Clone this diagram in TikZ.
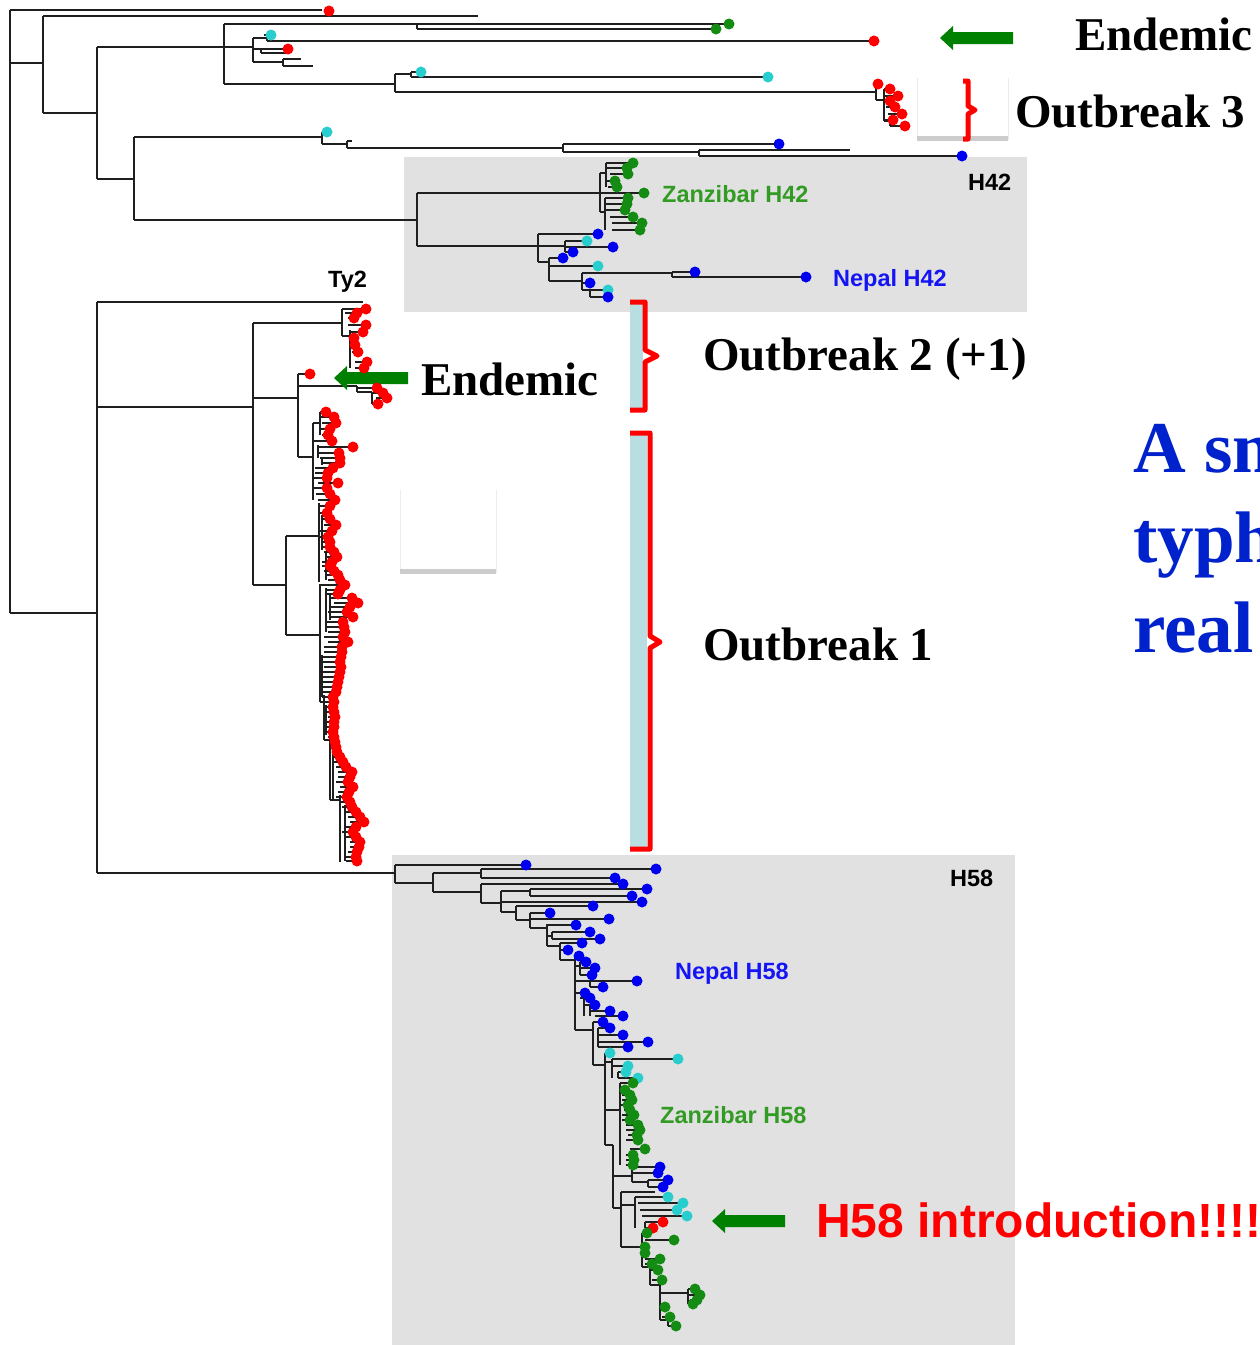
\documentclass[tikz,border=0pt]{standalone}
\usepackage{fontspec}
\setmainfont{Liberation Serif}
\newfontfamily\arialf{Liberation Sans}
\pgfdeclarelayer{bg}
\pgfdeclarelayer{fg}
\pgfsetlayers{bg,main,fg}
\definecolor{rd}{RGB}{255,0,0}
\definecolor{bl}{RGB}{0,0,240}
\definecolor{cy}{RGB}{40,205,205}
\definecolor{gr}{RGB}{20,140,20}
\definecolor{arrgreen}{RGB}{0,128,0}
\definecolor{boxgray}{RGB}{225,225,225}
\definecolor{paleblue}{RGB}{185,222,225}
\definecolor{zgreen}{RGB}{50,155,35}
\definecolor{nblue}{RGB}{20,20,245}
\definecolor{bigblue}{RGB}{0,34,204}
\tikzset{
  tr/.style={line width=1.6pt, black!88},
  brk/.style={draw=rd, line width=5pt, line join=round, line cap=butt},
  serlab/.style={anchor=base west, inner sep=0pt, font=\fontsize{47}{56}\selectfont\bfseries},
  treelab/.style={anchor=base west, inner sep=0pt, font=\arialf\fontsize{23.5}{28}\selectfont\bfseries},
}
\newcommand\lf[4]{\draw[tr] (#1,#3) -- (#2,#3);\begin{pgfonlayer}{fg}\fill[#4] (#2,#3) circle[radius=5.5pt];\end{pgfonlayer}}
\newcommand\dt[3]{\begin{pgfonlayer}{fg}\fill[#3] (#1,#2) circle[radius=5.5pt];\end{pgfonlayer}}
\newcommand\vs[3]{\draw[tr] (#1,#2) -- (#1,#3);}
\newcommand\hb[3]{\draw[tr] (#1,#3) -- (#2,#3);}
\newcommand\garrow[3]{\fill[arrgreen] (#1,#2) -- (#1+13,#2-12) -- (#1+13,#2-6) -- (#3,#2-6) -- (#3,#2+6) -- (#1+13,#2+6) -- (#1+13,#2+12) -- cycle;}
\begin{document}
\begin{tikzpicture}[x=1pt,y=-1pt]
\useasboundingbox (0,0) rectangle (1260,1345);
\clip (0,0) rectangle (1260,1345);
% background
\begin{pgfonlayer}{bg}
\fill[white] (0,0) rectangle (1260,1345);
\fill[boxgray] (404,157) rectangle (1027,312);
\fill[boxgray] (392,855) rectangle (1015,1345);
\end{pgfonlayer}
% artifact boxes
\fill[white] (917,78) rectangle (1008,140);
\draw[black!8, line width=1pt] (917,78) -- (917,140) (1008,78) -- (1008,140);
\fill[black!20] (917,136) rectangle (1008,141);
\fill[white] (400,490) rectangle (496,573);
\draw[black!7, line width=1pt] (400,490) -- (400,573) (496,490) -- (496,573);
\fill[black!20] (400,569) rectangle (496,574);

% ---------- upper tree ----------
\vs{10}{10}{613}
\hb{10}{322}{10} \dt{329}{11}{rd}
\hb{10}{43}{63}
\vs{43}{16}{113}
\hb{43}{478}{16}
\hb{43}{97}{113}
\vs{97}{47}{179}
\hb{97}{253}{47}
\vs{224}{24}{84}
\hb{224}{417}{24}
\vs{417}{24}{29}
\lf{417}{729}{24}{gr}
\lf{417}{716}{29}{gr}
\vs{253}{38}{62}
\hb{253}{267}{38}
\vs{267}{35}{41}
\lf{264}{271}{35}{cy}
\lf{267}{874}{41}{rd}
\hb{253}{261}{49}
\vs{261}{49}{53}
\lf{261}{288}{49}{rd}
\hb{261}{286}{53}
\hb{253}{283}{62}
\vs{283}{59}{66}
\hb{283}{301}{59}
\hb{283}{313}{66}
\hb{224}{395}{84}
\vs{395}{74}{92}
\hb{395}{411}{74}
\vs{411}{72}{77}
\lf{411}{421}{72}{cy}
\lf{411}{768}{77}{cy}
\hb{395}{876}{92}
% outbreak 3 cluster
\vs{876}{84}{100}
\lf{876}{878}{84}{rd}
\hb{876}{884}{100}
\vs{884}{89}{121}
\lf{884}{890}{89}{rd}
\lf{884}{898}{96}{rd}
\lf{886}{890}{101}{rd}
\lf{886}{895}{107}{rd}
\lf{888}{902}{114}{rd}
\lf{884}{893}{120}{rd}
\hb{884}{890}{121}
\vs{890}{121}{126}
\lf{890}{905}{126}{rd}
% second branch
\hb{97}{134}{179}
\vs{134}{137}{220}
\hb{134}{322}{137}
\vs{322}{132}{144}
\lf{322}{327}{132}{cy}
\hb{322}{347}{144}
\vs{347}{141}{148}
\hb{347}{352}{141}
\hb{347}{563}{148}
\vs{563}{144}{152}
\lf{563}{779}{144}{bl}
\hb{563}{699}{152}
\vs{699}{150}{156}
\hb{699}{850}{150}
\lf{699}{962}{156}{bl}
\hb{134}{417}{220}
\vs{417}{193}{246}
% Zanzibar H42
\hb{417}{600}{193}
\vs{600}{173}{212}
\hb{600}{606}{173}
\vs{606}{163}{187}
\lf{606}{633}{163}{gr}
\lf{606}{627}{168}{gr}
\lf{610}{628}{174}{gr}
\lf{606}{615}{181}{gr}
\lf{608}{617}{187}{gr}
\lf{600}{644}{193}{gr}
\hb{600}{605}{212}
\vs{605}{198}{230}
\lf{605}{628}{198}{gr}
\lf{605}{627}{204}{gr}
\lf{605}{625}{210}{gr}
\lf{610}{633}{217}{gr}
\lf{612}{642}{223}{gr}
\lf{612}{640}{230}{gr}
% Nepal H42
\hb{417}{538}{246}
\vs{538}{234}{262}
\lf{538}{598}{234}{bl}
\hb{538}{565}{246}
\vs{565}{241}{252}
\lf{565}{587}{241}{cy}
\lf{565}{613}{247}{bl}
\lf{565}{573}{252}{bl}
\hb{538}{549}{262}
\vs{549}{258}{281}
\lf{549}{563}{258}{bl}
\lf{549}{598}{266}{cy}
\hb{549}{582}{281}
\vs{582}{273}{290}
\hb{582}{672}{273}
\vs{672}{272}{277}
\lf{672}{695}{272}{bl}
\lf{672}{806}{277}{bl}
\lf{582}{590}{283}{bl}
\hb{582}{590}{290}
\vs{590}{290}{297}
\lf{590}{608}{290}{cy}
\lf{590}{608}{297}{bl}

% ---------- Ty2 ----------
\hb{10}{97}{613}
\vs{97}{302}{873}
\hb{97}{363}{302}
\hb{97}{253}{407}
\vs{253}{323}{585}
% outbreak 2
\hb{253}{342}{323}
\vs{342}{309}{336}
\lf{342}{366}{309}{rd}
\lf{345}{357}{313}{rd}
\lf{348}{354}{318}{rd}
\lf{348}{366}{325}{rd}
\hb{342}{350}{336}
\vs{350}{330}{368}
\lf{350}{363}{332}{rd}
\lf{350}{354}{338}{rd}
\lf{352}{355}{345}{rd}
\lf{352}{358}{352}{rd}
\lf{355}{367}{362}{rd}
\lf{355}{364}{368}{rd}
% endemic
\hb{253}{298}{398}
\vs{298}{374}{457}
\lf{298}{310}{374}{rd}
\hb{298}{357}{386}
\vs{357}{386}{392}
\lf{357}{377}{388}{rd}
\hb{357}{372}{392}
\vs{372}{392}{404}
\lf{372}{383}{393}{rd}
\lf{376}{387}{398}{rd}
\lf{372}{378}{404}{rd}
% outbreak 1
\hb{298}{313}{457}
\vs{313}{423}{500}
\hb{313}{320}{423}
\vs{320}{412}{435}
\hb{253}{286}{585}
\vs{286}{536}{635}
\hb{286}{319}{536}
\vs{319}{503}{582}
\hb{286}{320}{635}
\vs{320}{584}{702}
\hb{320}{324}{702}
\vs{324}{695}{740}
\hb{324}{330}{740}
\vs{330}{735}{800}
\hb{330}{340}{800}
\vs{340}{795}{862}
\vs{318}{445}{458} \vs{322}{458}{465} \vs{322}{515}{550} \vs{326}{552}{580}
\vs{326}{588}{632} \vs{330}{595}{620} \vs{322}{655}{697} \vs{326}{705}{735}
\vs{333}{745}{800} \vs{345}{805}{861}
\foreach \s/\x/\y in {320/326/412, 320/334/417, 322/336/423, 320/330/429, 322/328/435,
313/332/441, 318/353/447, 318/339/453, 320/340/458, 322/340/463, 315/333/468, 315/328/473, 313/327/478, 318/338/483, 313/327/488, 316/330/494, 318/335/500,
319/330/506, 319/327/513, 322/330/519, 324/336/525, 319/332/531, 319/328/537, 322/330/542, 322/330/547, 324/334/552, 326/337/557, 322/332/562, 322/330/566, 324/334/571, 326/338/575, 328/340/580,
320/345/585, 326/340/590, 326/338/594, 330/352/598, 334/358/603, 330/350/607, 328/347/612, 330/353/617, 326/343/622, 326/344/627, 328/345/632, 324/343/637, 328/348/642, 324/342/647, 324/342/652, 322/341/657, 322/340/662, 324/341/667, 322/340/672, 322/339/677, 322/338/682, 322/337/687, 322/336/692, 322/333/697,
324/334/702, 326/333/707, 326/334/712, 328/335/717, 326/334/722, 326/334/727, 326/333/732, 328/334/737,
330/335/742, 332/336/747, 332/337/752, 333/340/757, 333/343/762, 336/346/767, 338/352/772, 338/350/777, 336/348/782, 340/353/787, 338/349/792, 336/347/797,
340/350/802, 342/352/807, 345/356/812, 348/360/817, 350/364/822, 345/356/827, 342/353/832, 345/356/837, 350/360/842, 350/359/847, 348/357/852, 346/356/857, 346/357/861}
{\lf{\s}{\x}{\y}{rd}}

% ---------- H58 ----------
\hb{97}{395}{873}
\vs{395}{865}{883}
\lf{395}{526}{865}{bl}
\hb{395}{433}{883}
\vs{433}{873}{892}
\hb{433}{481}{873}
\vs{481}{869}{878}
\lf{481}{656}{869}{bl}
\lf{481}{615}{878}{bl}
\hb{433}{481}{892}
\vs{481}{884}{903}
\lf{481}{623}{884}{bl}
\hb{481}{501}{903}
\vs{501}{891}{912}
\hb{501}{530}{891}
\vs{530}{889}{896}
\lf{530}{647}{889}{bl}
\lf{530}{632}{896}{bl}
\lf{501}{642}{902}{bl}
\hb{501}{516}{912}
\vs{516}{906}{920}
\lf{516}{593}{906}{bl}
\hb{516}{530}{920}
\vs{530}{913}{928}
\lf{530}{550}{913}{bl}
\lf{530}{609}{919}{bl}
\hb{530}{547}{928}
\vs{547}{924}{946}
\lf{547}{576}{925}{bl}
\hb{547}{552}{936}
\vs{552}{932}{939}
\lf{552}{590}{932}{bl}
\lf{552}{600}{939}{bl}
\hb{547}{560}{946}
\vs{560}{943}{960}
\lf{560}{582}{943}{bl}
\lf{560}{568}{950}{bl}
\hb{560}{575}{960}
\vs{575}{956}{1030}
\lf{575}{579}{956}{bl}
\hb{575}{580}{966}
\vs{580}{962}{975}
\lf{580}{586}{962}{bl}
\lf{580}{595}{968}{bl}
\lf{580}{592}{975}{bl}
\lf{575}{637}{981}{bl}
\lf{590}{603}{987}{bl}
\vs{590}{981}{987}
\lf{575}{585}{993}{bl}
\lf{580}{590}{998}{bl}
\lf{584}{595}{1005}{bl}
\lf{590}{610}{1011}{bl}
\lf{595}{623}{1016}{bl}
\vs{584}{998}{1016} \vs{590}{1005}{1016}
\hb{575}{593}{1030}
\vs{593}{1022}{1065}
\lf{593}{603}{1022}{bl}
\lf{598}{610}{1028}{bl}
\lf{598}{623}{1035}{bl}
\vs{598}{1028}{1047}
\hb{598}{613}{1042}
\lf{613}{648}{1042}{bl}
\lf{598}{628}{1047}{bl}
\hb{593}{605}{1065}
\vs{605}{1053}{1145}
\lf{605}{610}{1053}{cy}
\hb{605}{612}{1062}
\vs{612}{1059}{1078}
\lf{612}{678}{1059}{cy}
\lf{612}{628}{1066}{cy}
\lf{618}{626}{1072}{cy}
\lf{618}{638}{1078}{cy}
\vs{618}{1072}{1078}
\hb{605}{620}{1110}
\vs{620}{1083}{1165}
\foreach \s/\x/\y in {620/633/1083, 620/625/1090, 622/630/1095, 622/632/1100, 620/628/1105, 624/630/1110, 622/634/1115, 622/630/1120, 626/638/1125, 626/640/1130, 628/637/1135, 626/638/1140, 630/645/1149, 626/633/1155, 626/634/1160, 626/633/1165}
{\lf{\s}{\x}{\y}{gr}}
\hb{605}{613}{1145}
\vs{613}{1145}{1208}
\hb{613}{632}{1176}
\vs{632}{1167}{1182}
\lf{632}{660}{1167}{bl}
\lf{632}{658}{1173}{bl}
\hb{632}{648}{1182}
\vs{648}{1180}{1187}
\lf{648}{668}{1180}{bl}
\lf{648}{663}{1187}{bl}
\hb{613}{621}{1208}
\vs{621}{1192}{1247}
\hb{621}{655}{1192}
\hb{621}{635}{1205}
\vs{635}{1197}{1228}
\lf{635}{668}{1197}{cy}
\lf{638}{683}{1203}{cy}
\lf{640}{677}{1210}{cy}
\lf{642}{687}{1216}{cy}
\lf{645}{663}{1222}{rd}
\lf{645}{653}{1228}{rd}
\vs{645}{1222}{1228}
\hb{621}{642}{1247}
\vs{642}{1233}{1267}
\lf{642}{647}{1233}{gr}
\lf{645}{674}{1240}{gr}
\lf{642}{645}{1247}{gr}
\lf{642}{645}{1253}{gr}
\lf{645}{660}{1259}{gr}
\lf{645}{652}{1264}{gr}
\hb{642}{650}{1267}
\vs{650}{1267}{1285}
\lf{650}{658}{1270}{gr}
\lf{652}{662}{1280}{gr}
\hb{650}{660}{1285}
\vs{660}{1285}{1320}
\hb{660}{688}{1293}
\vs{688}{1289}{1304}
\lf{688}{695}{1289}{gr}
\lf{688}{700}{1295}{gr}
\lf{690}{697}{1300}{gr}
\lf{688}{693}{1304}{gr}
\lf{660}{665}{1307}{gr}
\lf{662}{670}{1317}{gr}
\hb{660}{668}{1320}
\vs{668}{1320}{1326}
\lf{668}{676}{1326}{gr}

% ---------- brackets ----------
\fill[paleblue] (630,302) rectangle (643,410);
\draw[brk] (630,302) -- (645,302) -- (645,350) -- (657,356) -- (645,362) -- (645,410) -- (630,410);
\fill[paleblue] (630,433) rectangle (647,849);
\draw[brk] (630,433) -- (650,433) -- (650,636) -- (660,642) -- (650,648) -- (650,849) -- (630,849);
\draw[draw=rd, line width=5pt, line join=round] (963,81) -- (968,81) -- (968,106) -- (975,110) -- (968,114) -- (968,139) -- (963,139);

% ---------- arrows ----------
\garrow{940}{38}{1013}
\garrow{334}{378}{408}
\garrow{712}{1221}{785}

% ---------- labels ----------
\node[serlab] (endtop) at (1075,50) {Endemic};
\node[serlab] (ob3) at (1015,127) {Outbreak 3};
\node[serlab] (ob2) at (703,370) {Outbreak 2 (+1)};
\node[serlab] (endmid) at (421,395) {Endemic};
\node[serlab] (ob1) at (703,660) {Outbreak 1};
\node[anchor=base west, inner sep=0pt, text=bigblue, font=\fontsize{73}{80}\selectfont\bfseries] (bl1) at (1133,472) {A sm};
\node[anchor=base west, inner sep=0pt, text=bigblue, font=\fontsize{73}{80}\selectfont\bfseries] (bl2) at (1133,562) {typh};
\node[anchor=base west, inner sep=0pt, text=bigblue, font=\fontsize{73}{80}\selectfont\bfseries] (bl3) at (1133,652) {real};
\node[anchor=base west, inner sep=0pt, text=rd, font=\arialf\fontsize{48}{56}\selectfont\bfseries] (intro) at (816,1237) {H58 introduction!!!!};
\node[treelab, text=zgreen] (zh42) at (662,202) {Zanzibar H42};
\node[treelab, text=nblue] (nh42) at (833,286) {Nepal H42};
\node[treelab] (h42) at (968,190) {H42};
\node[treelab] (ty2) at (328,287) {Ty2};
\node[treelab] (h58) at (950,886) {H58};
\node[treelab, text=nblue] (nh58) at (675,979) {Nepal H58};
\node[treelab, text=zgreen] (zh58) at (660,1123) {Zanzibar H58};
\end{tikzpicture}
\end{document}
